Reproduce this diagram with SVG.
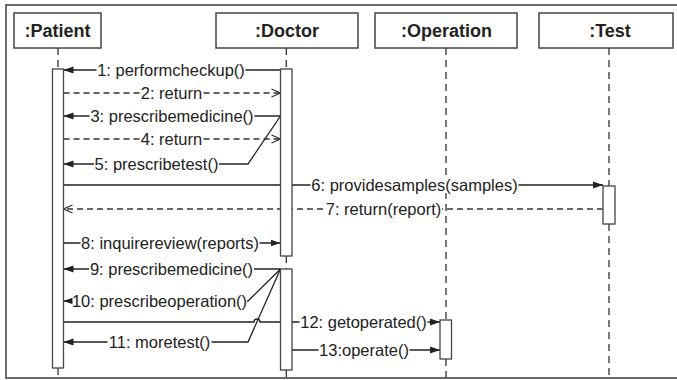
<svg xmlns="http://www.w3.org/2000/svg" width="677" height="380" viewBox="0 0 677 380">
<style>
.frame{fill:none;stroke:#6a6a6a;stroke-width:2}
.head{fill:#fff;stroke:#444;stroke-width:1.5}
.title{font-family:"Liberation Sans",Arial,sans-serif;font-size:18px;font-weight:bold;fill:#222;text-anchor:middle}
.life{fill:none;stroke:#333;stroke-width:1.3;stroke-dasharray:7,5}
.bar{fill:#fff;stroke:#444;stroke-width:1.3}
.msg{fill:none;stroke:#222;stroke-width:1.3}
.ret{fill:none;stroke:#333;stroke-width:1.3;stroke-dasharray:6,4}
.lbl{font-family:"Liberation Sans",Arial,sans-serif;font-size:16.5px;fill:#222;text-anchor:middle}
.bg{fill:#fff}
</style>
<defs>
<marker id="af" markerUnits="userSpaceOnUse" markerWidth="10" markerHeight="8" refX="10" refY="4" orient="auto"><path d="M0,0.5 L10,4 L0,7.5 z" fill="#222"/></marker>
<marker id="ao" markerUnits="userSpaceOnUse" markerWidth="11" markerHeight="11" refX="9.5" refY="5.5" orient="auto"><path d="M0.5,1.5 L9.5,5.5 L0.5,9.5" fill="none" stroke="#333" stroke-width="1.3"/></marker>
</defs>
<rect width="677" height="380" fill="#fff"/>
<path class="frame" d="M677,5 H6 V378 H677"/>

<g id="patient">
<rect class="head" x="14" y="13" width="87" height="35"/>
<text class="title" x="57.5" y="37">:Patient</text>
<path class="life" d="M58,48 V69 M58,368 V378"/>
</g>
<g id="doctor">
<rect class="head" x="216" y="13" width="142" height="35"/>
<text class="title" x="287" y="37">:Doctor</text>
<path class="life" d="M286.3,48 V69 M286.3,256 V269 M286.3,370 V378"/>
</g>
<g id="operation">
<rect class="head" x="375" y="13" width="142" height="35"/>
<text class="title" x="446.5" y="37">:Operation</text>
<path class="life" d="M446,48 V320 M446,359 V378"/>
</g>
<g id="test">
<rect class="head" x="539" y="13" width="134" height="35"/>
<text class="title" x="610" y="37">:Test</text>
<path class="life" d="M609,48 V186 M609,224 V378"/>
</g>

<g id="connectors">
<path class="msg" d="M280.5,70 H63.5" marker-end="url(#af)"/>
<rect class="bg" x="96.5" y="62" width="149" height="16"/>
<text class="lbl" x="171" y="76">1: performcheckup()</text>

<path class="ret" d="M63.5,93 H280.5" marker-end="url(#ao)"/>
<rect class="bg" x="140" y="85" width="63" height="16"/>
<text class="lbl" x="171.5" y="99">2: return</text>

<path class="msg" d="M280.5,116 H63.5" marker-end="url(#af)"/>
<rect class="bg" x="89.5" y="108" width="165" height="16"/>
<text class="lbl" x="172" y="122">3: prescribemedicine()</text>

<path class="ret" d="M63.5,139 H280.5" marker-end="url(#ao)"/>
<rect class="bg" x="140" y="131" width="63" height="16"/>
<text class="lbl" x="171.5" y="145">4: return</text>

<path class="msg" d="M280.5,116 L248,164 H63.5" marker-end="url(#af)"/>
<rect class="bg" x="94" y="156" width="125" height="16"/>
<text class="lbl" x="156.5" y="170">5: prescribetest()</text>

<path class="msg" d="M63.5,185 H603" marker-end="url(#af)"/>
<rect class="bg" x="310.5" y="177" width="208" height="16"/>
<text class="lbl" x="414.5" y="191">6: providesamples(samples)</text>

<path class="ret" d="M603,209 H63.5" marker-end="url(#ao)"/>
<rect class="bg" x="325" y="201" width="117" height="16"/>
<text class="lbl" x="383.5" y="215">7: return(report)</text>

<path class="msg" d="M63.5,243 H280.5" marker-end="url(#af)"/>
<rect class="bg" x="80.5" y="235" width="179" height="16"/>
<text class="lbl" x="170" y="249">8: inquirereview(reports)</text>

<path class="msg" d="M280.5,269 H63.5" marker-end="url(#af)"/>
<rect class="bg" x="89" y="261" width="165" height="16"/>
<text class="lbl" x="171.5" y="275">9: prescribemedicine()</text>

<path class="msg" d="M280.5,269 L248,301 H63.5" marker-end="url(#af)"/>
<rect class="bg" x="72.5" y="293" width="174.5" height="16"/>
<text class="lbl" x="159.5" y="307">10: prescribeoperation()</text>

<path class="msg" d="M280.5,269 L248,342 H63.5" marker-end="url(#af)"/>
<rect class="bg" x="107.5" y="334" width="104" height="16"/>
<text class="lbl" x="159.5" y="348">11: moretest()</text>

<path class="msg" d="M63.5,322 H254 A3,3 0 0 1 260,322 H440" marker-end="url(#af)"/>
<rect class="bg" x="299.5" y="314" width="128" height="16"/>
<text class="lbl" x="363.5" y="328">12: getoperated()</text>

<path class="msg" d="M292,350 H440" marker-end="url(#af)"/>
<rect class="bg" x="318.5" y="342" width="91" height="16"/>
<text class="lbl" x="364" y="356">13:operate()</text>
</g>

<g id="activations">
<rect class="bar" x="52.5" y="69" width="11" height="299"/>
<rect class="bar" x="280.5" y="69" width="11.5" height="187"/>
<rect class="bar" x="280.5" y="269" width="11.5" height="101"/>
<rect class="bar" x="440" y="320" width="11.5" height="39"/>
<rect class="bar" x="603" y="186" width="12" height="38"/>
</g>
</svg>
